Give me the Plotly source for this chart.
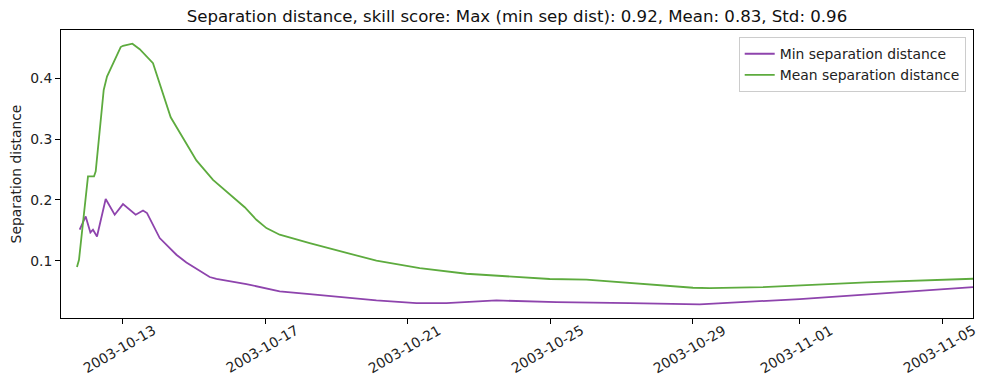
import plotly.graph_objects as go

# Mean separation distance series
mean_times = [
    "2003-10-11 17:25", "2003-10-11 18:47", "2003-10-12 00:50", "2003-10-12 04:53",
    "2003-10-12 06:02", "2003-10-12 11:25", "2003-10-12 13:38", "2003-10-12 22:51",
    "2003-10-13 00:24", "2003-10-13 06:44", "2003-10-13 11:39", "2003-10-13 20:36",
    "2003-10-14 08:31", "2003-10-15 01:49", "2003-10-15 13:00", "2003-10-16 10:20",
    "2003-10-16 18:13", "2003-10-17 00:57", "2003-10-17 09:54", "2003-10-17 23:22",
    "2003-10-18 06:05", "2003-10-20 03:00", "2003-10-21 08:09", "2003-10-22 15:35",
    "2003-10-24 23:40", "2003-10-26 00:22", "2003-10-27 05:31", "2003-10-29 00:09",
    "2003-10-29 11:22", "2003-10-30 23:15", "2003-11-02 20:53", "2003-11-05 20:38",
]
mean_values = [
    0.0896, 0.1016, 0.2387, 0.2387,
    0.247, 0.381, 0.403, 0.4515,
    0.4536, 0.457, 0.448, 0.425,
    0.336, 0.265, 0.233, 0.188,
    0.1674, 0.1537, 0.1428, 0.1334,
    0.129, 0.100, 0.088, 0.0786,
    0.070, 0.0688, 0.0633, 0.0556,
    0.0551, 0.0567, 0.0643, 0.0704,
]

# Min separation distance series
min_times = [
    "2003-10-11 19:15", "2003-10-11 23:17", "2003-10-12 02:27", "2003-10-12 04:12",
    "2003-10-12 06:54", "2003-10-12 12:45", "2003-10-12 18:49", "2003-10-13 00:24",
    "2003-10-13 08:57", "2003-10-13 13:52", "2003-10-13 16:34", "2003-10-14 01:07",
    "2003-10-14 12:21", "2003-10-14 19:05", "2003-10-15 10:46", "2003-10-15 15:17",
    "2003-10-16 11:29", "2003-10-17 09:54", "2003-10-18 06:05", "2003-10-20 03:00",
    "2003-10-21 05:55", "2003-10-22 02:07", "2003-10-23 11:47", "2003-10-25 04:11",
    "2003-10-27 05:31", "2003-10-29 04:38", "2003-11-01 00:00", "2003-11-05 20:38",
]
min_values = [
    0.151, 0.1729, 0.1466, 0.151,
    0.140, 0.2015, 0.1757, 0.1932,
    0.1757, 0.1827, 0.1784, 0.1373,
    0.1099, 0.0972, 0.0732, 0.070,
    0.0617, 0.0495, 0.0452, 0.0347,
    0.0304, 0.0304, 0.0347, 0.032,
    0.0304, 0.0281, 0.037, 0.0567,
]

tick_dates = ["2003-10-13", "2003-10-17", "2003-10-21", "2003-10-25",
              "2003-10-29", "2003-11-01", "2003-11-05"]
y_ticks = [0.1, 0.2, 0.3, 0.4]

title_text = "Separation distance, skill score: Max (min sep dist): 0.92, Mean: 0.83, Std: 0.96"

fig = go.Figure()
fig.add_trace(go.Scatter(x=min_times, y=min_values, mode="lines",
                         name="Min separation distance",
                         line=dict(color="#8e44ad", width=1.8)))
fig.add_trace(go.Scatter(x=mean_times, y=mean_values, mode="lines",
                         name="Mean separation distance",
                         line=dict(color="#5dab3e", width=1.8)))

font_family = "DejaVu Sans"
fs = 13.9
txt_color = "#222222"

# Rotated x tick labels centred on their ticks (matplotlib style)
for d in tick_dates:
    fig.add_annotation(x=d, xref="x", y=0, yref="paper",
                       text=d, showarrow=False, textangle=-30,
                       xanchor="center", yanchor="middle",
                       yshift=-31, xshift=-3,
                       font=dict(family=font_family, size=fs, color=txt_color))

fig.update_layout(
    width=989, height=390,
    margin=dict(l=61, r=16, t=30, b=72),
    paper_bgcolor="white", plot_bgcolor="white",
    font=dict(family=font_family, size=fs, color=txt_color),
    title=dict(text=title_text, x=0.5227, xanchor="center", y=0.958, yanchor="middle",
               font=dict(family=font_family, size=16.6, color="#111111")),
    showlegend=True,
    legend=dict(x=0.992, xanchor="right", y=0.975, yanchor="top",
                bgcolor="rgba(255,255,255,0.8)", bordercolor="#cccccc", borderwidth=1,
                font=dict(family=font_family, size=fs, color=txt_color),
                itemwidth=30, tracegroupgap=0),
)
fig.update_xaxes(
    type="date",
    range=["2003-10-11 06:40", "2003-11-05 20:38"],
    tickvals=tick_dates, showticklabels=False,
    ticks="outside", ticklen=5, tickwidth=1, tickcolor="black",
    showline=True, linecolor="black", linewidth=1, mirror=True,
    showgrid=False, zeroline=False,
)
fig.update_yaxes(
    range=[0.0058, 0.4796],
    tickvals=y_ticks, ticktext=[f"{v:.1f}" for v in y_ticks],
    ticks="outside", ticklen=5, tickwidth=1, tickcolor="black",
    showline=True, linecolor="black", linewidth=1, mirror=True,
    showgrid=False, zeroline=False,
    title=dict(text="Separation distance", standoff=5,
               font=dict(family=font_family, size=fs, color=txt_color)),
    tickfont=dict(family=font_family, size=fs, color=txt_color),
)

fig.write_html("out.html")
